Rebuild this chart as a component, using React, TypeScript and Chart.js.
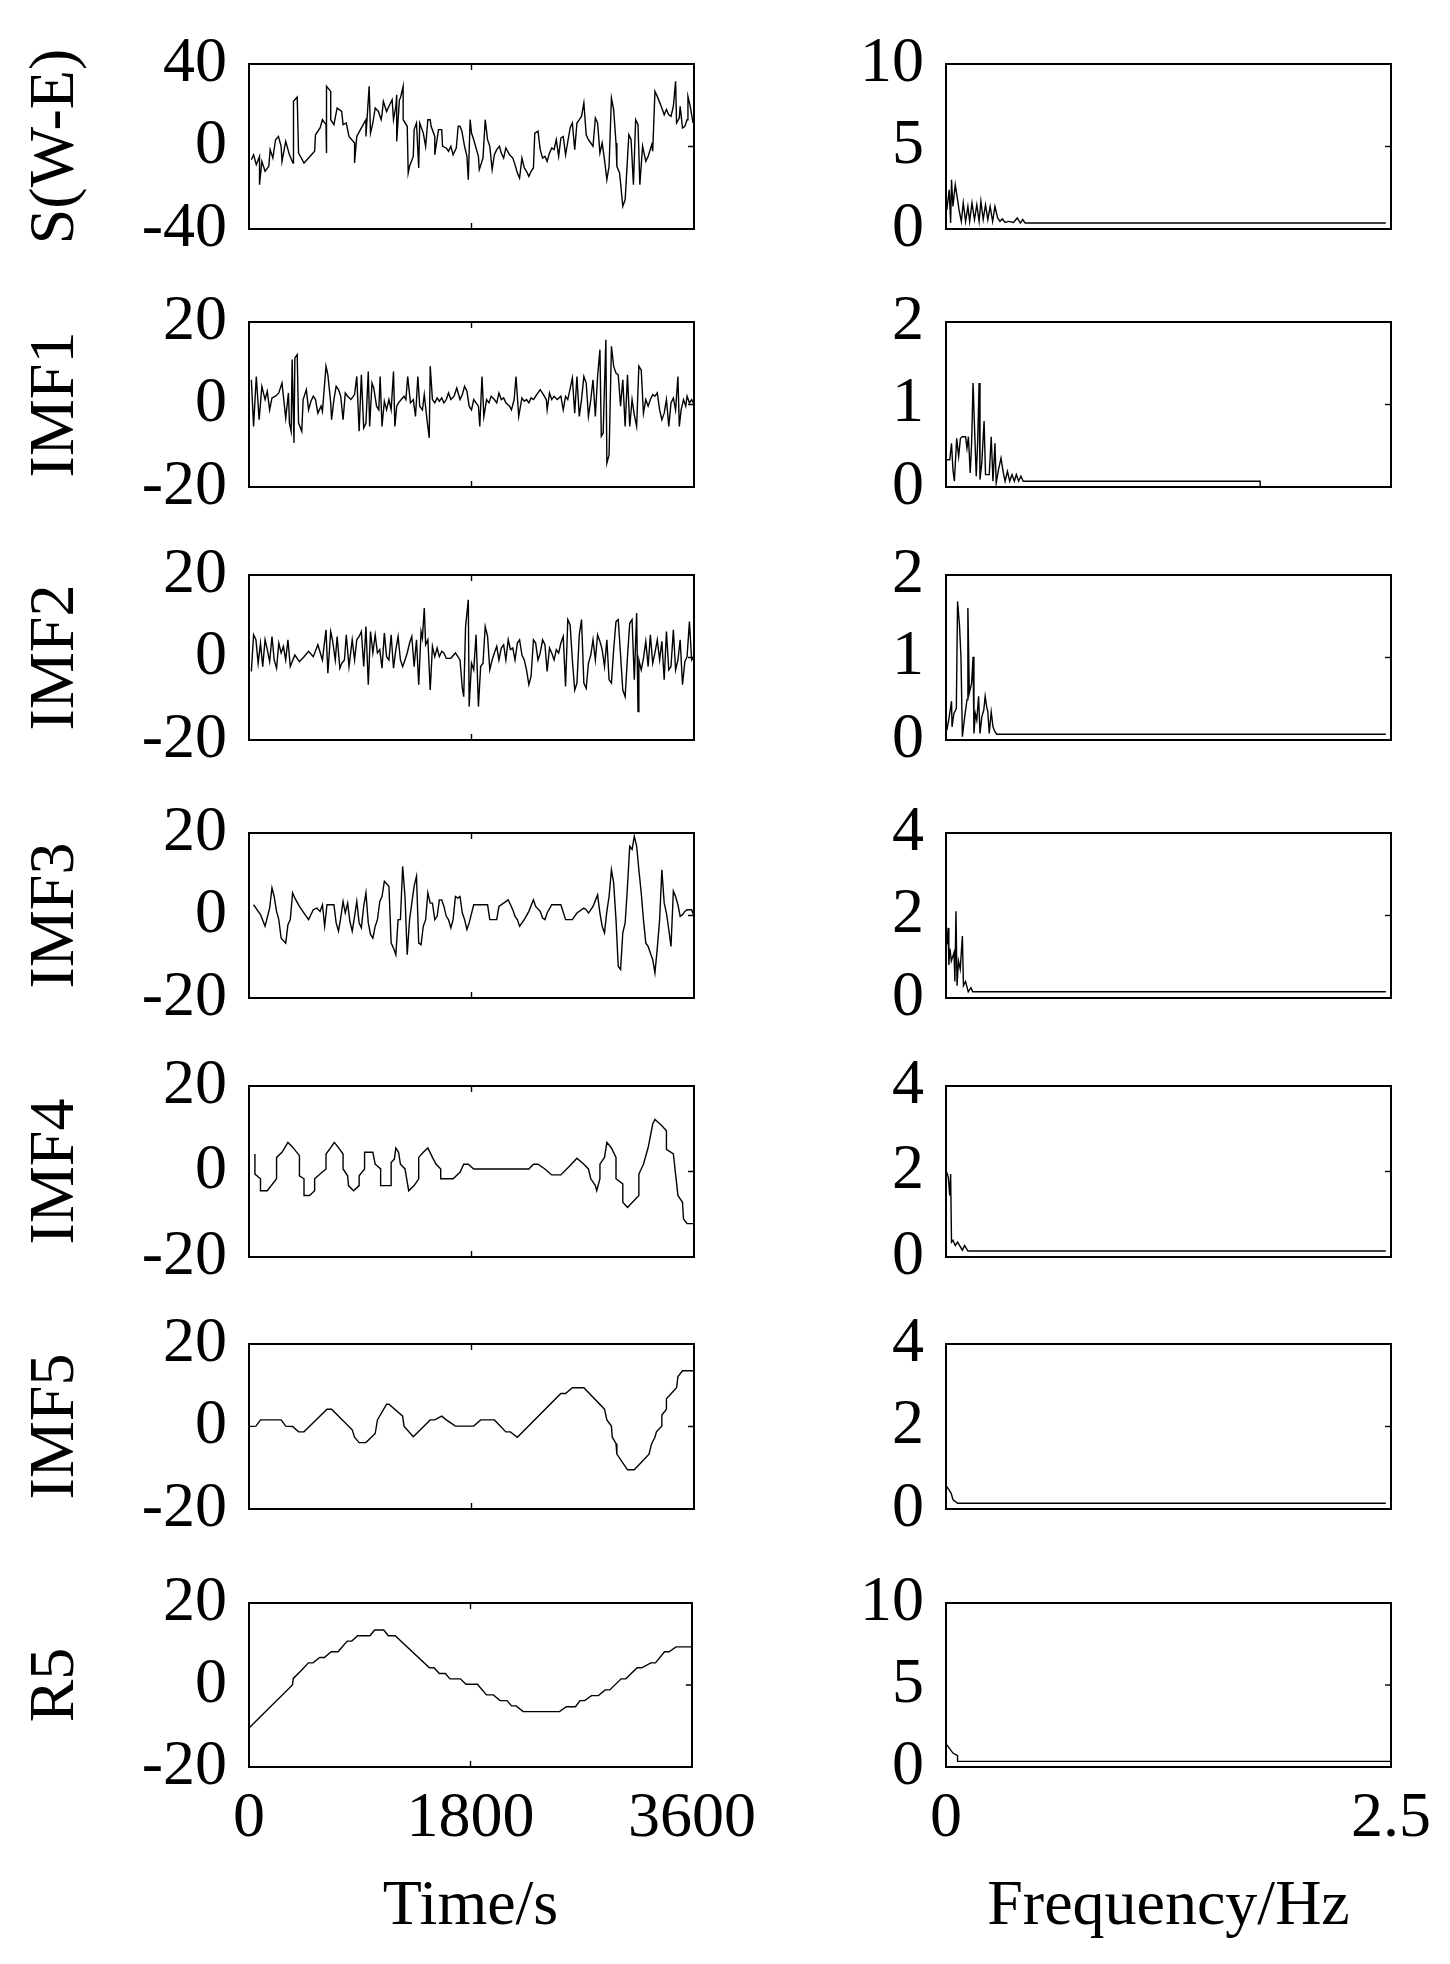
import React, { useEffect, useRef } from 'react';
import { Chart, registerables } from 'chart.js';

Chart.register(...registerables);

// ---------------- DATA ----------------
// Left column: time series, [time (s), value]
const SWE: number[][] = [[19,-6.4],[37,-4.0],[59,-8.8],[85,-4.8],[85,-18.5],[104,-7.2],[130,-12.0],[160,-9.6],[171,-1.5],[193,-5.6],[215,3.3],[238,4.9],[260,0.1],[267,-7.2],[297,2.5],[327,-4.0],[356,-8.0],[360,21.9],[390,24.0],[401,-3.2],[445,-8.0],[482,-5.6],[531,-2.3],[538,5.7],[575,9.0],[594,13.0],[623,10.6],[623,-3.2],[631,29.2],[661,26.7],[661,13.0],[687,10.6],[713,18.7],[750,17.0],[761,10.6],[787,11.4],[809,4.9],[854,1.7],[854,-8.0],[872,4.9],[909,9.0],[946,13.0],[946,4.9],[972,29.2],[983,6.5],[1002,11.4],[1021,18.7],[1047,17.0],[1069,13.0],[1076,15.4],[1087,21.9],[1113,17.0],[1132,19.5],[1158,22.7],[1169,13.0],[1188,19.5],[1195,25.1],[1195,2.5],[1217,22.7],[1225,23.5],[1247,29.2],[1247,13.0],[1280,9.8],[1288,-12.8],[1299,-9.6],[1329,-4.8],[1336,8.2],[1355,11.4],[1373,-10.4],[1381,11.4],[1410,6.5],[1429,0.1],[1447,13.0],[1466,13.0],[1473,9.8],[1503,4.9],[1503,-4.0],[1533,8.2],[1559,8.2],[1566,0.1],[1596,-0.7],[1614,-2.3],[1633,0.1],[1651,-4.0],[1677,-0.7],[1692,9.8],[1707,9.8],[1722,7.4],[1744,0.1],[1763,-4.8],[1774,-16.1],[1789,13.0],[1800,6.5],[1818,3.3],[1856,-4.8],[1863,-11.2],[1893,-5.6],[1911,13.0],[1930,3.3],[1948,0.1],[1967,-11.2],[1985,-4.0],[2004,-1.5],[2026,0.1],[2041,-3.2],[2060,-5.6],[2078,-0.7],[2108,-4.0],[2134,-5.6],[2152,-8.8],[2171,-12.8],[2189,-15.3],[2208,-5.6],[2227,-10.4],[2245,-12.0],[2264,-14.5],[2282,-12.0],[2301,-10.4],[2312,6.5],[2338,7.4],[2356,-1.5],[2375,-5.6],[2394,-4.8],[2412,-7.2],[2431,-3.2],[2449,-0.7],[2468,-1.5],[2486,3.3],[2505,-4.8],[2523,4.1],[2542,4.9],[2561,-4.0],[2598,9.0],[2616,11.4],[2635,-1.5],[2653,11.4],[2672,13.0],[2690,14.6],[2709,21.1],[2728,5.7],[2746,3.3],[2765,1.7],[2783,0.1],[2802,13.8],[2820,11.4],[2839,-3.2],[2857,1.7],[2876,-6.4],[2895,-16.1],[2913,-9.6],[2932,23.5],[2950,17.9],[2969,1.7],[2976,-9.6],[2998,-12.8],[3024,-29.0],[3043,-25.8],[3050,-18.5],[3073,5.7],[3091,3.3],[3110,-18.5],[3128,13.0],[3147,10.6],[3162,-18.5],[3184,0.1],[3210,-7.2],[3229,-4.8],[3258,0.9],[3266,-2.3],[3284,26.7],[3303,24.3],[3340,18.7],[3359,15.4],[3377,17.9],[3396,15.4],[3414,14.6],[3433,19.5],[3451,31.6],[3459,11.4],[3481,13.8],[3488,19.5],[3507,9.0],[3526,9.8],[3544,13.0],[3551,24.3],[3570,19.5],[3592,11.4]];

const IMF1: number[][] = [[19,6.0],[37,-5.3],[59,6.8],[82,-3.7],[104,4.4],[130,1.2],[148,3.2],[167,-1.3],[186,1.6],[215,2.0],[241,2.8],[267,5.2],[297,-3.3],[319,2.8],[327,-4.5],[341,-6.5],[349,10.9],[364,-9.3],[371,11.3],[390,12.1],[401,-4.5],[427,-6.5],[438,1.2],[464,3.6],[482,-1.3],[501,0.8],[520,2.0],[538,1.2],[557,-2.1],[583,-0.4],[594,-1.7],[623,9.3],[638,7.2],[661,0.4],[668,-3.7],[687,1.2],[705,4.4],[724,3.6],[742,2.0],[761,-3.7],[779,2.8],[798,2.0],[824,1.2],[854,2.4],[872,6.8],[891,-6.5],[909,7.2],[928,-5.7],[946,-4.5],[965,8.0],[976,-5.3],[995,5.2],[1009,4.0],[1032,-0.4],[1050,-1.3],[1061,6.8],[1076,-5.3],[1095,0.8],[1113,-1.3],[1132,1.2],[1150,-1.3],[1169,8.0],[1180,-5.3],[1195,-0.4],[1210,0.4],[1232,1.2],[1254,2.0],[1269,1.2],[1284,6.8],[1306,0.4],[1329,1.2],[1347,-2.9],[1366,6.8],[1381,-0.4],[1403,-1.3],[1418,2.4],[1440,-3.7],[1458,-8.1],[1466,9.3],[1484,1.2],[1503,0.4],[1522,1.6],[1540,0.8],[1559,1.6],[1577,0.4],[1596,1.2],[1614,2.8],[1633,1.2],[1659,2.0],[1681,4.0],[1707,1.2],[1726,2.4],[1744,4.4],[1763,3.2],[1781,-0.4],[1800,-1.3],[1818,1.2],[1856,-0.4],[1867,-5.3],[1885,6.8],[1900,-2.9],[1922,1.2],[1941,0.4],[1959,2.0],[1985,1.2],[2004,0.4],[2022,2.8],[2041,1.2],[2060,1.6],[2078,0.4],[2108,-0.4],[2123,-1.3],[2145,1.2],[2160,6.8],[2182,-2.9],[2208,1.6],[2227,0.8],[2245,1.2],[2264,0.4],[2282,1.6],[2301,1.2],[2319,2.0],[2338,2.8],[2356,3.6],[2382,2.4],[2405,1.2],[2412,-1.3],[2431,2.8],[2449,1.2],[2468,2.0],[2494,1.2],[2523,2.0],[2542,-1.3],[2561,2.0],[2579,1.2],[2616,6.4],[2635,-2.1],[2653,6.8],[2672,-2.9],[2690,1.2],[2709,6.8],[2728,5.2],[2746,-2.9],[2765,1.2],[2783,6.0],[2802,-2.9],[2820,6.8],[2839,13.3],[2850,-7.7],[2865,-6.9],[2887,15.7],[2895,-14.2],[2913,-12.2],[2932,14.1],[2950,9.3],[2969,7.6],[2987,7.2],[3006,-0.4],[3024,6.0],[3043,-5.3],[3062,7.2],[3080,-5.3],[3099,1.2],[3117,-2.5],[3136,-5.3],[3154,9.3],[3173,8.4],[3191,-2.1],[3210,1.2],[3229,-0.4],[3247,1.2],[3266,2.4],[3284,2.0],[3303,2.8],[3322,-1.3],[3340,-3.7],[3359,-2.1],[3377,1.2],[3396,-5.3],[3414,0.4],[3433,1.6],[3451,-1.3],[3470,6.8],[3481,-5.3],[3496,-1.3],[3515,1.2],[3533,-0.4],[3544,2.0],[3563,0.4],[3581,1.2],[3600,0.0]];

const IMF2: number[][] = [[19,-3.4],[37,5.5],[56,4.3],[74,-1.4],[93,3.5],[111,-2.2],[130,4.3],[148,1.9],[167,-1.0],[186,5.1],[204,-0.6],[223,-2.6],[241,3.5],[260,1.1],[278,2.7],[297,-0.6],[315,4.3],[334,-2.2],[371,0.6],[408,-1.0],[445,0.2],[482,1.5],[520,0.2],[557,3.1],[594,-0.6],[623,6.7],[638,-3.8],[661,6.3],[675,4.3],[698,-0.6],[713,5.1],[735,-2.6],[750,-1.4],[772,-0.6],[787,5.5],[809,-2.2],[835,4.3],[854,-0.6],[872,4.3],[891,5.1],[909,6.3],[928,-2.2],[946,7.5],[965,-6.6],[983,6.3],[1002,1.1],[1021,5.5],[1039,1.1],[1058,1.9],[1076,-2.6],[1095,5.9],[1113,0.2],[1132,-0.6],[1150,5.5],[1169,-2.6],[1188,1.9],[1206,5.1],[1225,-0.6],[1243,-2.2],[1262,-0.6],[1280,1.1],[1299,3.5],[1317,5.1],[1336,-2.2],[1355,4.3],[1373,-6.6],[1392,6.3],[1403,4.7],[1418,12.0],[1429,3.1],[1447,4.3],[1466,-7.9],[1484,2.7],[1503,0.2],[1522,2.3],[1540,0.2],[1559,1.5],[1577,1.1],[1596,-0.2],[1633,-0.2],[1670,1.1],[1707,-0.6],[1726,-7.5],[1737,-9.5],[1752,7.5],[1774,14.0],[1781,-11.9],[1800,-1.4],[1818,-3.0],[1837,5.5],[1856,-11.9],[1874,-2.2],[1893,-1.4],[1911,7.5],[1930,5.1],[1948,-3.0],[1967,-0.6],[1985,1.1],[2004,2.7],[2022,-0.6],[2041,2.3],[2060,3.1],[2078,-0.6],[2097,4.3],[2115,1.9],[2134,2.3],[2152,-0.6],[2171,3.5],[2189,4.3],[2208,0.6],[2227,-0.6],[2245,-3.0],[2264,-6.6],[2282,-4.6],[2301,4.3],[2319,3.5],[2338,-0.6],[2356,1.1],[2375,4.3],[2394,3.1],[2412,-3.4],[2431,2.3],[2449,1.1],[2468,-0.6],[2486,1.9],[2505,1.1],[2523,3.5],[2542,5.1],[2561,-7.0],[2579,9.2],[2598,7.9],[2616,-0.6],[2635,-7.9],[2653,-6.2],[2672,5.5],[2690,9.2],[2709,-6.2],[2728,-7.5],[2746,-1.4],[2765,0.6],[2783,4.3],[2802,-0.6],[2820,5.5],[2839,3.9],[2857,1.9],[2876,-2.2],[2895,4.3],[2913,-5.4],[2932,-6.2],[2950,1.9],[2969,8.7],[2987,9.2],[3006,0.6],[3024,-7.9],[3043,-9.5],[3062,0.2],[3080,8.3],[3099,9.2],[3117,-5.4],[3136,10.8],[3147,-13.1],[3154,-0.6],[3173,-3.0],[3191,-0.2],[3210,3.9],[3229,-2.2],[3247,5.5],[3266,-1.4],[3284,1.1],[3303,4.3],[3322,-0.6],[3340,3.9],[3359,-5.4],[3377,6.3],[3396,-3.0],[3414,-2.2],[3433,6.7],[3451,-3.0],[3470,-0.6],[3488,4.3],[3507,-6.6],[3526,-1.0],[3544,0.2],[3563,8.7],[3581,-0.6],[3600,0.2]];

const IMF3: number[][] = [[37,2.6],[93,0.2],[130,-2.6],[167,1.8],[186,6.7],[204,4.6],[223,1.0],[241,-1.0],[260,-5.5],[297,-6.7],[315,-2.2],[334,-1.0],[353,5.5],[371,4.2],[408,2.2],[445,0.6],[482,-1.0],[520,1.4],[549,1.8],[575,1.0],[594,2.6],[612,-2.6],[631,2.6],[687,2.6],[705,-1.8],[724,-3.8],[742,-0.6],[761,3.4],[779,0.6],[798,3.0],[816,-1.4],[835,-3.8],[854,-0.2],[872,3.4],[891,-1.8],[909,-3.0],[928,2.2],[946,5.5],[965,-1.8],[983,-4.6],[1002,-5.5],[1021,-2.6],[1039,-1.0],[1058,3.4],[1076,4.6],[1095,8.3],[1132,7.1],[1150,-6.7],[1169,-7.9],[1188,-9.5],[1206,-1.0],[1225,-1.0],[1243,11.9],[1262,4.6],[1280,-9.5],[1299,-1.0],[1317,3.0],[1336,7.1],[1355,9.5],[1373,-6.7],[1392,-7.1],[1410,-2.6],[1429,-1.0],[1447,5.5],[1466,3.0],[1484,3.0],[1503,-1.0],[1522,-0.2],[1540,3.8],[1559,3.8],[1577,2.2],[1596,-0.2],[1614,-1.0],[1633,-3.0],[1651,-1.0],[1670,4.6],[1689,4.2],[1707,4.6],[1726,0.6],[1744,-1.0],[1763,-3.4],[1781,-1.8],[1818,2.6],[1930,2.6],[1948,-1.0],[2004,-1.0],[2022,2.2],[2097,3.8],[2134,1.4],[2152,-0.2],[2171,-1.0],[2189,-2.6],[2227,-1.0],[2264,1.0],[2301,3.8],[2319,2.2],[2356,1.0],[2375,-0.6],[2394,-1.0],[2412,0.6],[2449,2.6],[2523,2.6],[2561,-1.0],[2616,-1.0],[2653,0.6],[2709,1.8],[2728,1.4],[2746,0.6],[2783,2.2],[2820,5.0],[2839,0.6],[2857,-2.6],[2876,-4.2],[2895,1.0],[2913,4.6],[2932,11.1],[2950,7.9],[2969,-1.0],[2987,-12.3],[3006,-13.1],[3024,-4.2],[3043,-1.8],[3062,7.1],[3080,16.8],[3099,16.0],[3117,19.2],[3136,16.8],[3154,11.1],[3173,5.5],[3191,-1.0],[3210,-6.7],[3229,-7.5],[3247,-9.1],[3266,-10.7],[3284,-13.9],[3303,-7.9],[3322,-1.0],[3340,11.1],[3359,3.0],[3377,0.6],[3396,-3.4],[3414,-7.5],[3433,5.9],[3451,4.6],[3470,2.6],[3488,-0.2],[3507,0.2],[3526,1.0],[3544,1.4],[3581,1.4],[3600,-0.2]];

const IMF4: number[][] = [[48,4.1],[48,-0.6],[93,-1.7],[93,-4.5],[148,-4.5],[223,-1.7],[223,3.3],[267,4.5],[315,6.8],[353,5.7],[408,3.7],[408,-1.0],[445,-1.7],[445,-5.6],[490,-5.6],[531,-4.5],[531,-1.7],[575,-0.6],[623,0.6],[623,4.1],[661,5.6],[690,6.8],[724,5.6],[761,4.1],[761,0.6],[798,-1.0],[805,-3.3],[846,-4.5],[891,-3.3],[891,-1.0],[935,0.6],[935,4.5],[1002,4.5],[1021,1.7],[1065,0.6],[1065,-3.3],[1150,-3.3],[1150,2.1],[1176,2.9],[1188,5.5],[1210,4.5],[1225,1.7],[1262,0.6],[1292,-4.5],[1336,-3.3],[1373,-1.7],[1373,3.3],[1410,4.5],[1447,5.5],[1484,3.3],[1514,1.7],[1551,0.6],[1551,-1.7],[1651,-1.7],[1707,-0.2],[1737,1.7],[1774,1.7],[1818,0.6],[2264,0.6],[2301,1.7],[2338,1.7],[2394,0.6],[2449,-0.8],[2523,-0.8],[2598,1.4],[2653,3.1],[2709,1.7],[2746,0.6],[2765,-1.7],[2802,-3.3],[2813,-4.5],[2839,-1.7],[2839,1.7],[2876,3.3],[2895,6.8],[2932,5.5],[2969,3.3],[2969,-1.7],[3024,-2.9],[3024,-7.2],[3062,-8.4],[3154,-5.6],[3154,-0.6],[3191,1.7],[3229,5.6],[3266,11.1],[3284,12.2],[3340,10.7],[3377,9.5],[3377,5.2],[3433,4.1],[3451,-0.6],[3470,-5.6],[3507,-7.2],[3515,-11.1],[3544,-12.2],[3600,-12.2]];

const IMF5: number[][] = [[0,0.0],[56,0.1],[93,1.6],[260,1.6],[297,0.1],[353,0.0],[401,-1.3],[445,-1.3],[631,4.2],[668,4.2],[835,-0.8],[854,-2.6],[891,-3.9],[946,-3.9],[1021,-1.7],[1039,1.6],[1113,5.4],[1132,5.4],[1243,2.5],[1254,0.1],[1329,-2.5],[1466,1.6],[1503,1.6],[1559,2.5],[1596,1.6],[1670,0.1],[1818,0.1],[1874,1.6],[1985,1.6],[2078,-1.3],[2115,-1.3],[2171,-2.6],[2523,8.0],[2561,8.0],[2616,9.4],[2709,9.4],[2876,4.2],[2895,1.6],[2932,0.1],[2939,-2.6],[2969,-4.1],[2976,-6.7],[3062,-10.5],[3117,-10.5],[3236,-6.7],[3258,-4.1],[3284,-2.6],[3296,-1.3],[3340,0.1],[3340,2.8],[3377,4.2],[3377,6.7],[3459,9.4],[3470,12.1],[3507,13.5],[3600,13.5]];

const R5: number[][] = [[0,-10.5],[353,0.0],[360,1.6],[427,3.6],[482,5.4],[520,5.4],[575,6.7],[612,6.7],[668,8.1],[724,8.1],[798,10.7],[835,10.7],[883,12.0],[983,12.0],[1021,13.4],[1095,13.4],[1132,12.0],[1188,12.0],[1466,4.2],[1503,4.2],[1547,2.8],[1596,2.8],[1633,1.5],[1718,1.5],[1763,0.2],[1856,0.2],[1930,-2.4],[1985,-2.4],[2041,-3.8],[2097,-3.8],[2134,-5.1],[2171,-5.1],[2227,-6.5],[2523,-6.5],[2579,-5.3],[2653,-5.3],[2690,-3.8],[2728,-3.8],[2783,-2.6],[2839,-2.6],[2895,-1.2],[2932,-1.2],[3024,1.5],[3062,1.5],[3154,4.2],[3191,4.2],[3266,5.4],[3303,5.4],[3377,8.1],[3414,8.1],[3470,9.3],[3600,9.3]];

// Right column: amplitude spectra, [frequency (Hz), amplitude]
const SPEC_SWE: number[][] = [[0.005,1.17],[0.018,2.38],[0.026,0.36],[0.031,2.99],[0.039,1.37],[0.052,2.69],[0.065,1.78],[0.073,1.17],[0.086,0.46],[0.097,1.58],[0.110,0.46],[0.123,1.37],[0.133,0.46],[0.146,1.58],[0.160,0.57],[0.173,1.47],[0.186,0.46],[0.196,1.68],[0.209,0.57],[0.222,1.47],[0.235,0.57],[0.248,1.37],[0.262,0.46],[0.275,1.37],[0.290,0.67],[0.303,0.46],[0.316,0.61],[0.332,0.40],[0.353,0.46],[0.379,0.40],[0.400,0.67],[0.418,0.36],[0.431,0.57],[0.445,0.36],[2.471,0.36]];

const SPEC_IMF1: number[][] = [[0.005,0.33],[0.021,0.33],[0.031,0.53],[0.039,0.21],[0.047,0.07],[0.060,0.59],[0.071,0.37],[0.081,0.59],[0.092,0.61],[0.110,0.61],[0.118,0.47],[0.126,0.61],[0.136,0.17],[0.144,0.53],[0.152,1.26],[0.162,0.61],[0.170,0.13],[0.178,0.55],[0.186,1.26],[0.191,0.09],[0.201,0.29],[0.214,0.80],[0.222,0.15],[0.243,0.15],[0.254,0.61],[0.264,0.07],[0.275,0.53],[0.282,0.05],[0.295,0.21],[0.309,0.35],[0.322,0.17],[0.332,0.07],[0.345,0.19],[0.358,0.07],[0.371,0.15],[0.384,0.07],[0.395,0.15],[0.408,0.07],[0.421,0.13],[0.434,0.07],[1.765,0.07],[1.765,0.0]];

const SPEC_IMF2: number[][] = [[0.005,0.12],[0.018,0.28],[0.031,0.47],[0.034,0.16],[0.044,0.32],[0.058,0.38],[0.065,1.68],[0.076,1.38],[0.084,1.01],[0.092,0.04],[0.105,0.28],[0.118,0.49],[0.123,1.60],[0.131,0.57],[0.144,0.69],[0.152,1.01],[0.157,0.08],[0.165,0.32],[0.173,0.24],[0.183,0.53],[0.191,0.08],[0.201,0.28],[0.212,0.36],[0.220,0.53],[0.228,0.41],[0.235,0.34],[0.243,0.08],[0.254,0.34],[0.264,0.16],[0.275,0.10],[0.285,0.07],[2.471,0.07]];

const SPEC_IMF3: number[][] = [[0.005,1.3],[0.012,1.7],[0.016,0.8],[0.022,1.2],[0.030,0.9],[0.045,1.1],[0.050,0.4],[0.056,2.1],[0.062,0.3],[0.070,0.9],[0.080,0.7],[0.092,1.5],[0.098,0.3],[0.110,0.4],[0.125,0.15],[0.140,0.25],[0.150,0.15],[2.471,0.15]];

const SPEC_IMF4: number[][] = [[0.005,1.98],[0.013,1.86],[0.021,1.44],[0.026,1.94],[0.031,0.35],[0.039,0.39],[0.052,0.27],[0.065,0.35],[0.092,0.16],[0.105,0.27],[0.123,0.14],[2.471,0.14]];

const SPEC_IMF5: number[][] = [[0.005,0.54],[0.018,0.46],[0.029,0.38],[0.039,0.23],[0.065,0.14],[2.471,0.14]];

const SPEC_R5: number[][] = [[0.005,1.35],[0.039,0.85],[0.065,0.69],[0.065,0.34],[2.5,0.34]];

const ROW_LABELS = ['S(W-E)', 'IMF1', 'IMF2', 'IMF3', 'IMF4', 'IMF5', 'R5'];
const TIME_SERIES = [SWE, IMF1, IMF2, IMF3, IMF4, IMF5, R5];
const SPECTRA = [SPEC_SWE, SPEC_IMF1, SPEC_IMF2, SPEC_IMF3, SPEC_IMF4, SPEC_IMF5, SPEC_R5];
// [min, max, step]
const TIME_Y_AXES = [[-40, 40, 40], [-20, 20, 20], [-20, 20, 20], [-20, 20, 20], [-20, 20, 20], [-20, 20, 20], [-20, 20, 20]];
const SPEC_Y_AXES = [[0, 10, 5], [0, 2, 1], [0, 2, 1], [0, 4, 2], [0, 4, 2], [0, 4, 2], [0, 10, 5]];
const TIME_X_AXIS = [0, 3600, 1800];
const FREQ_X_AXIS = [0, 2.5, 2.5];
const X_TITLES = ['Time/s', 'Frequency/Hz'];

// ---------------- LAYOUT ----------------
const PLOT_TOPS = [64, 322, 575, 833, 1086, 1344, 1603];
const PLOT_BOTTOMS = [229, 487, 740, 998, 1257, 1509, 1767];
const COLS = [
  { left: 0, width: 770, plotLeft: 249, plotRight: 694 },
  { left: 720, width: 730, plotLeft: 946, plotRight: 1391 },
];
const FONT = "'Liberation Serif', 'Times New Roman', Times, serif";
const FS = 64;

const framePlugin = {
  id: 'frame',
  afterDraw(chart: any, _a: any, opts: any) {
    const { ctx, chartArea } = chart;
    const { left, right, top, bottom } = chartArea;
    const xs = chart.scales.x;
    const ys = chart.scales.y;
    ctx.save();
    ctx.strokeStyle = '#000';
    ctx.lineWidth = 2;
    ctx.strokeRect(left, top, right - left, bottom - top);
    ctx.lineWidth = 1.4;
    const L = 6;
    ctx.beginPath();
    (opts.xInner || []).forEach((v: number) => {
      const px = xs.getPixelForValue(v);
      ctx.moveTo(px, bottom); ctx.lineTo(px, bottom - L);
      ctx.moveTo(px, top); ctx.lineTo(px, top + L);
    });
    (opts.yInner || []).forEach((v: number) => {
      const py = ys.getPixelForValue(v);
      ctx.moveTo(right, py); ctx.lineTo(right - L, py);
    });
    ctx.stroke();
    ctx.restore();
  },
};

type PanelProps = {
  col: number;
  row: number;
  series: number[][];
  xAxis: number[];
  yAxis: number[];
  yTitle?: string;
  xTitle?: string;
  isBottom: boolean;
  xInner: number[];
  yInner: number[];
};

function Panel(p: PanelProps) {
  const ref = useRef<HTMLCanvasElement | null>(null);
  const c = COLS[p.col];
  const plotTop = PLOT_TOPS[p.row];
  const plotBottom = PLOT_BOTTOMS[p.row];
  const PAD_TOP = 64;
  const X_AXIS_H = p.isBottom ? 190 : 0;
  const PAD_BOTTOM = p.isBottom ? 0 : 64;
  const height = PAD_TOP + (plotBottom - plotTop) + X_AXIS_H + PAD_BOTTOM;
  const top = plotTop - PAD_TOP;

  useEffect(() => {
    if (!ref.current) return;
    const chart = new Chart(ref.current, {
      type: 'line',
      data: {
        datasets: [
          {
            data: p.series.map((d) => ({ x: d[0], y: d[1] })),
            borderColor: '#000',
            borderWidth: 1.4,
            pointRadius: 0,
            tension: 0,
            fill: false,
          },
        ],
      },
      options: {
        animation: false,
        responsive: false,
        devicePixelRatio: 1,
        events: [],
        layout: {
          padding: { left: 0, top: PAD_TOP, right: c.width - (c.plotRight - c.left), bottom: PAD_BOTTOM },
        },
        plugins: {
          legend: { display: false },
          tooltip: { enabled: false },
          frame: { xInner: p.xInner, yInner: p.yInner },
        } as any,
        scales: {
          x: {
            type: 'linear',
            position: 'bottom',
            min: p.xAxis[0],
            max: p.xAxis[1],
            grid: { display: false, drawTicks: false },
            border: { display: false },
            ticks: {
              display: p.isBottom,
              stepSize: p.xAxis[2],
              autoSkip: false,
              maxRotation: 0,
              padding: 14,
              color: '#000',
              font: { family: FONT, size: FS },
              callback: (v: any) => String(v),
            },
            title: {
              display: !!p.xTitle,
              text: p.xTitle || '',
              color: '#000',
              font: { family: FONT, size: FS },
              padding: { top: 0, bottom: 11 },
            },
            afterFit: (s: any) => {
              s.height = X_AXIS_H;
            },
          },
          y: {
            type: 'linear',
            position: 'left',
            min: p.yAxis[0],
            max: p.yAxis[1],
            grid: { display: false, drawTicks: false },
            border: { display: false },
            ticks: {
              stepSize: p.yAxis[2],
              autoSkip: false,
              padding: 22,
              color: '#000',
              font: { family: FONT, size: FS },
              callback: (v: any) => String(v),
            },
            title: {
              display: !!p.yTitle,
              text: p.yTitle || '',
              color: '#000',
              font: { family: FONT, size: FS },
              padding: { top: 18, bottom: 0 },
            },
            afterFit: (s: any) => {
              s.width = c.plotLeft - c.left;
            },
          },
        },
      } as any,
      plugins: [framePlugin as any],
    });
    return () => chart.destroy();
  }, []);

  return (
    <canvas
      ref={ref}
      width={c.width}
      height={height}
      style={{ position: 'absolute', left: c.left, top, width: c.width, height }}
    />
  );
}

export default function App() {
  const n = ROW_LABELS.length;
  return (
    <div style={{ position: 'absolute', left: 0, top: 0, width: 1450, height: 1964, background: '#fff', overflow: 'hidden' }}>
      {ROW_LABELS.map((label, i) => (
        <Panel
          key={'t' + i}
          col={0}
          row={i}
          series={TIME_SERIES[i]}
          xAxis={TIME_X_AXIS}
          yAxis={TIME_Y_AXES[i]}
          yTitle={label}
          xTitle={i === n - 1 ? X_TITLES[0] : undefined}
          isBottom={i === n - 1}
          xInner={[TIME_X_AXIS[2]]}
          yInner={[(TIME_Y_AXES[i][0] + TIME_Y_AXES[i][1]) / 2]}
        />
      ))}
      {ROW_LABELS.map((_label, i) => (
        <Panel
          key={'f' + i}
          col={1}
          row={i}
          series={SPECTRA[i]}
          xAxis={FREQ_X_AXIS}
          yAxis={SPEC_Y_AXES[i]}
          xTitle={i === n - 1 ? X_TITLES[1] : undefined}
          isBottom={i === n - 1}
          xInner={[]}
          yInner={[SPEC_Y_AXES[i][2]]}
        />
      ))}
    </div>
  );
}
